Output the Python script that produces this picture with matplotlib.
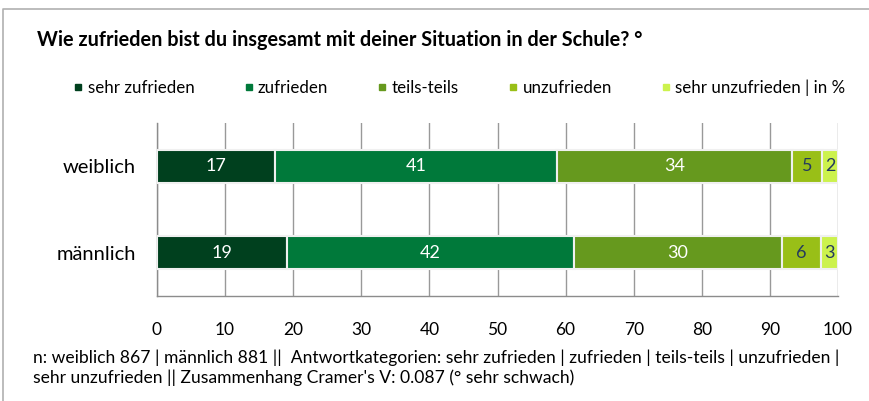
import matplotlib
matplotlib.use('Agg')
import matplotlib.pyplot as plt
from matplotlib.lines import Line2D

plt.rcParams['font.family'] = ['Lato', 'DejaVu Sans']

# Daten (Anteile in %)
gruppen = ['weiblich', 'männlich']
kategorien = ['sehr zufrieden', 'zufrieden', 'teils-teils', 'unzufrieden', 'sehr unzufrieden | in %']
weiblich = [17.4, 41.3, 34.5, 4.5, 2.3]
maennlich = [19.1, 42.1, 30.6, 5.7, 2.5]
labels_w = [17, 41, 34, 5, 2]
labels_m = [19, 42, 30, 6, 3]
farben = ['#00401e', '#00793a', '#66991e', '#99bf17', '#ccf24d']
textfarben = ['white', 'white', 'white', '#243a5e', '#243a5e']
xticks = [0, 10, 20, 30, 40, 50, 60, 70, 80, 90, 100]

werte = [weiblich, maennlich]
labels = [labels_w, labels_m]

fig = plt.figure(figsize=(8.69, 4.01), dpi=100)
ax = fig.add_axes([157/869, 105/401, 681/869, 173/401])

for i in range(len(kategorien)):
    links = [sum(w[:i]) for w in werte]
    breite = [w[i] for w in werte]
    bars = ax.barh(range(len(gruppen)), breite, left=links, height=0.38,
                   color=farben[i], edgecolor='#f0f0f0', linewidth=1.5, zorder=3)
    for b, lab in zip(bars, [l[i] for l in labels]):
        ax.text(b.get_x() + b.get_width()/2, b.get_y() + b.get_height()/2, str(lab),
                ha='center', va='center', color=textfarben[i], fontsize=13, zorder=4)

ax.set_xlim(0, 100)
ax.set_ylim(1.5, -0.5)
ax.set_xticks(xticks)
ax.set_yticks(range(len(gruppen)))
ax.set_yticklabels(gruppen, fontsize=14.5)
ax.tick_params(axis='x', length=0, pad=19, labelsize=12.5)
ax.tick_params(axis='y', length=0, pad=15)
ax.grid(axis='x', color='#999999', linewidth=1, zorder=0)
ax.set_axisbelow(True)
for s in ['top', 'right']:
    ax.spines[s].set_visible(False)
for s in ['left', 'bottom']:
    ax.spines[s].set_color('#8c8c8c')
    ax.spines[s].set_linewidth(1)

# Legende
handles = [Line2D([], [], marker='s', linestyle='none', markersize=4.5,
                  markerfacecolor=c, markeredgecolor=c) for c in farben]
fig.legend(handles, kategorien, loc='center left', bbox_to_anchor=(74/869, (401-88)/401),
           ncol=5, frameon=False, fontsize=12.2, handlelength=0.5, handletextpad=0.3,
           columnspacing=2.95, borderpad=0, borderaxespad=0)

fig.text(37/869, (401-40)/401, 'Wie zufrieden bist du insgesamt mit deiner Situation in der Schule? °',
         fontsize=14.3, fontweight='bold', va='center', ha='left')

fig.text(33/869, (401-349)/401,
         "n: weiblich 867 | männlich 881 ||  Antwortkategorien: sehr zufrieden | zufrieden | teils-teils | unzufrieden |\n"
         "sehr unzufrieden || Zusammenhang Cramer's V: 0.087 (° sehr schwach)",
         fontsize=12.6, va='top', ha='left', linespacing=1.3)

# Rahmen oben und links
fig.add_artist(Line2D([3/869, 3/869, 1], [0, 392/401, 392/401], color='#b0b0b0', linewidth=1.2))

fig.savefig('out.png', dpi=100)
